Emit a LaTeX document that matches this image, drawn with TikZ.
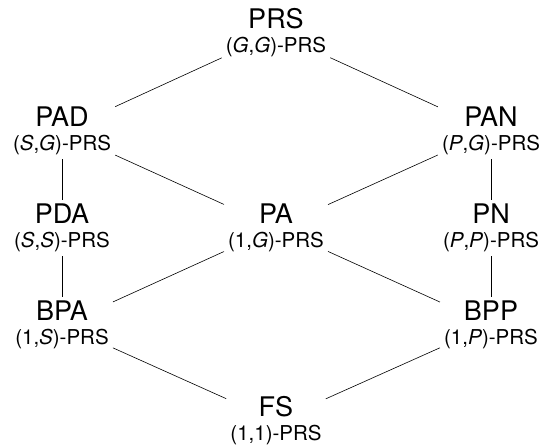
\documentclass[tikz,border=0pt]{standalone}
\usepackage{fontspec}
\setmainfont{TeX Gyre Heros}
\newcommand\bigname[1]{{\fontsize{27}{24}\selectfont #1}}
\begin{document}
\begin{tikzpicture}[x=1pt,y=-1pt,
  lbl/.style={align=center, inner sep=4pt, font=\fontsize{20.5}{24}\selectfont},
  edge/.style={line width=0.6pt, black}]
\useasboundingbox (0,0) rectangle (547,445);
\node[lbl] (prs) at (276,33)  {\bigname{PRS}\\(\textit{G},\textit{G})-PRS};
\node[lbl] (pad) at (62,131)  {\bigname{PAD}\\(\textit{S},\textit{G})-PRS};
\node[lbl] (pan) at (491,131) {\bigname{PAN}\\(\textit{P},\textit{G})-PRS};
\node[lbl] (pda) at (62,228)  {\bigname{PDA}\\(\textit{S},\textit{S})-PRS};
\node[lbl] (pa)  at (276,228) {\bigname{PA}\\(1,\textit{G})-PRS};
\node[lbl] (pn)  at (491,228) {\bigname{PN}\\(\textit{P},\textit{P})-PRS};
\node[lbl] (bpa) at (62,325)  {\bigname{BPA}\\(1,\textit{S})-PRS};
\node[lbl] (bpp) at (491,325) {\bigname{BPP}\\(1,\textit{P})-PRS};
\node[lbl] (fs)  at (276,421) {\bigname{FS}\\(1,1)-PRS};
\draw[edge] (prs) -- (pad);
\draw[edge] (prs) -- (pan);
\draw[edge] (pad) -- (pda);
\draw[edge] (pad) -- (pa);
\draw[edge] (pan) -- (pa);
\draw[edge] (pan) -- (pn);
\draw[edge] (pda) -- (bpa);
\draw[edge] (pa) -- (bpa);
\draw[edge] (pa) -- (bpp);
\draw[edge] (pn) -- (bpp);
\draw[edge] (bpa) -- (fs);
\draw[edge] (bpp) -- (fs);
\end{tikzpicture}
\end{document}
